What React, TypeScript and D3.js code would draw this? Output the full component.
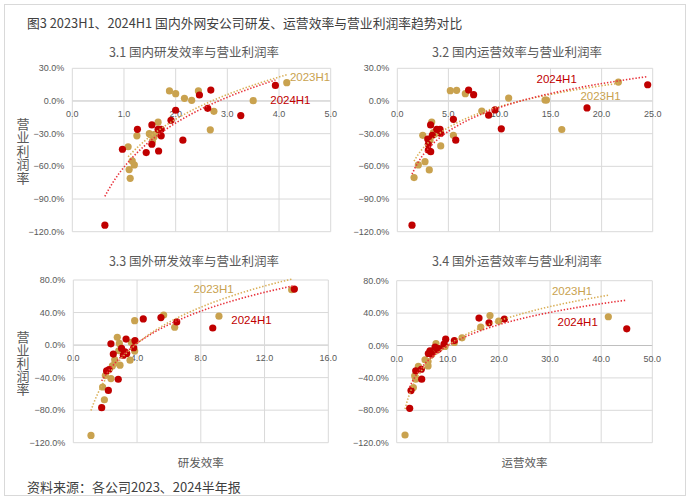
import React from 'react';
import * as d3 from 'd3';

type Pt = [number, number];

// 3.1 国内研发效率 vs 营业利润率
const domRd2023: Pt[] = [[1.88,9.2],[2.0,6.7],[2.17,2.4],[2.31,0.6],[2.44,9.2],[2.74,-9.5],[2.67,-26.5],[3.5,0.3],[4.15,16.8],[1.66,-19.5],[1.49,-30],[1.52,-31],[1.58,-33],[1.55,-37],[1.6,-30.6],[1.25,-32],[1.08,-42],[1.16,-55],[1.2,-58.7],[1.1,-63],[1.12,-71]];
const domRd2024: Pt[] = [[0.63,-114],[0.97,-44.3],[1.26,-26],[1.43,-47.4],[1.54,-22],[1.54,-39.7],[1.66,-26],[1.67,-45.9],[1.72,-26],[1.72,-32],[1.91,-17.7],[2.0,-8.5],[2.14,-36],[2.46,5.5],[2.68,10],[2.62,-6.7],[3.26,-13.4],[3.93,14.3]];
// 3.2 国内运营效率 vs 营业利润率
const domOp2023: Pt[] = [[5.19,9.5],[5.81,9.8],[6.66,6.7],[10.9,2.7],[14.46,0.9],[14.6,0.9],[21.64,17.4],[16.1,-26.2],[8.27,-9.2],[3.37,-19.3],[2.49,-31.5],[3.53,-29],[3.65,-30.5],[3.2,-36],[5.49,-31.5],[4.25,-41.3],[2.71,-55.7],[2.06,-58.7],[3.13,-63.3],[1.64,-70.3]];
const domOp2024: Pt[] = [[1.44,-114],[6.98,10],[7.47,5.8],[9.56,-8.2],[8.94,-13],[10.18,-25.6],[18.57,-6.4],[24.51,14.9],[5.49,-16.8],[5.72,-36],[3.26,-22],[2.98,-35],[3.86,-26],[4.18,-26],[4.25,-29.6],[3.43,-31.5],[3.04,-39.7],[3.04,-45],[3.27,-46.5]];
// 3.3 国外研发效率 vs 营业利润率
const intlRd2023: Pt[] = [[13.7,68],[5.67,37],[3.85,30],[6.36,21.9],[9.14,35.5],[2.76,9.5],[2.89,2],[3.64,3.3],[2.85,-7],[3.85,-7.4],[3.56,-18.6],[2.6,-17.7],[2.62,-21.9],[2.93,-24.7],[2.45,-25.6],[2.01,-37.5],[2.36,-41.2],[1.84,-51.5],[1.95,-67.2],[1.11,-111]];
const intlRd2024: Pt[] = [[13.87,68.9],[4.39,32.2],[5.5,33.8],[6.49,28.5],[8.75,21],[2.36,1.6],[3.31,7.4],[3.87,5.4],[3.79,-3.3],[3.03,-4.1],[3.24,-8.2],[3.35,-10.3],[3.14,-12.4],[2.51,-11.1],[2.82,-42],[2.24,-30],[2.09,-31.8],[2.2,-55.7],[1.78,-77]];
// 3.4 国外运营效率 vs 营业利润率
const intlOp2023: Pt[] = [[41.4,35.5],[18.25,37],[19.95,30],[16.43,22.7],[12.78,9.5],[11.28,3.7],[7.69,2.5],[5.54,-17.7],[6.13,-19.8],[6.13,-25.2],[4.24,-25.6],[3.52,-37.5],[3.72,-41.6],[3.26,-52],[1.63,-110.5],[7.37,-5.4],[6.98,-7.4],[9.45,-1.2]];
const intlOp2024: Pt[] = [[45,20.6],[21.06,32.6],[16.1,33.8],[18.06,28],[11.28,6.2],[9.58,7.8],[9.26,1.6],[7.5,-2],[8.28,-3.7],[6.52,-6.6],[6.19,-9.9],[6.84,-10.7],[8.0,-5.4],[4.82,-29.3],[3.72,-31.3],[4.89,-41.6],[2.8,-55.7],[2.54,-77.5]];

const panelTitles = ['3.1 国内研发效率与营业利润率', '3.2 国内运营效率与营业利润率', '3.3 国外研发效率与营业利润率', '3.4 国外运营效率与营业利润率'];
const seriesNames = ['2023H1', '2024H1'];
const mainTitle = '图3 2023H1、2024H1 国内外网安公司研发、运营效率与营业利润率趋势对比';
const sourceText = '资料来源：各公司2023、2024半年报';
const yAxisTitle = '营业利润率';
const xAxisTitles = ['研发效率', '运营效率'];

const GOLD = '#C9A24F';
const RED = '#C00000';
const GOLD_TREND = '#D9AE55';
const RED_TREND = '#E8313A';
const FONT = '"Liberation Sans", "Noto Sans CJK SC", sans-serif';
const CJK = '"Noto Sans CJK SC", sans-serif';

interface Panel {
  title: string;
  gold: Pt[];
  red: Pt[];
  xDom: [number, number]; xStep: number; xR: [number, number];
  yDom: [number, number]; yStep: number; yR: [number, number];
  titleX: number; titleY: number;
  goldLabel: Pt; redLabel: Pt;
  yTitle: boolean; yTitleTop?: number; yTitleGap?: number; xTitle?: string;
}

const panels: Panel[] = [
  { title: panelTitles[0], gold: domRd2023, red: domRd2024, xDom: [0, 5], xStep: 1, xR: [72.3, 330.7], yDom: [-120, 30], yStep: 30, yR: [231.7, 68.3], titleX: 194, titleY: 51, goldLabel: [4.6, 22], redLabel: [4.22, 1], yTitle: true, yTitleTop: 117.5, yTitleGap: 0.5 },
  { title: panelTitles[1], gold: domOp2023, red: domOp2024, xDom: [0, 25], xStep: 5, xR: [397.3, 652.7], yDom: [-120, 30], yStep: 30, yR: [231.7, 68.3], titleX: 517, titleY: 51, goldLabel: [19.9, 4.6], redLabel: [15.6, 20.5], yTitle: false },
  { title: panelTitles[2], gold: intlRd2023, red: intlRd2024, xDom: [0, 16], xStep: 4, xR: [73.3, 328.3], yDom: [-120, 80], yStep: 40, yR: [442.7, 280], titleX: 194, titleY: 260, goldLabel: [8.8, 68.8], redLabel: [11.18, 30.7], yTitle: true, yTitleTop: 330.5, yTitleGap: 0, xTitle: xAxisTitles[0] },
  { title: panelTitles[3], gold: intlOp2023, red: intlOp2024, xDom: [0, 50], xStep: 10, xR: [396.7, 652.3], yDom: [-120, 80], yStep: 40, yR: [442.7, 280.7], titleX: 517, titleY: 260, goldLabel: [34.3, 66.7], redLabel: [35.4, 28.4], yTitle: false, xTitle: xAxisTitles[1] },
];

function logFit(pts: Pt[]) {
  const lx = pts.map(p => Math.log(p[0]));
  const mx = d3.mean(lx)!;
  const my = d3.mean(pts, p => p[1])!;
  let sxy = 0, sxx = 0;
  pts.forEach((p, i) => { sxy += (lx[i] - mx) * (p[1] - my); sxx += (lx[i] - mx) ** 2; });
  const a = sxy / sxx;
  const b = my - a * mx;
  return { a, b };
}

function PanelView({ p }: { p: Panel }) {
  const x = d3.scaleLinear().domain(p.xDom).range(p.xR);
  const y = d3.scaleLinear().domain(p.yDom).range(p.yR);
  const xTicks = d3.range(p.xDom[0], p.xDom[1] + p.xStep / 2, p.xStep);
  const yTicks = d3.range(p.yDom[0], p.yDom[1] + p.yStep / 2, p.yStep);
  const trend = (pts: Pt[]) => {
    const { a, b } = logFit(pts);
    const [lo, hi] = d3.extent(pts, d => d[0]) as [number, number];
    const xs = d3.range(0, 81).map(i => lo + (hi - lo) * i / 80);
    return d3.line<number>().x(v => x(v)).y(v => y(a * Math.log(v) + b))(xs) || '';
  };
  const fmtX = d3.format('.1f');
  const fmtY = (v: number) => d3.format('.1f')(v) + '%';
  return (
    <g>
      <text x={p.titleX} y={p.titleY} textAnchor="middle" dominantBaseline="central" fontSize={12.5} fill="#595959" fontFamily={CJK}>{p.title}</text>
      {yTicks.map(t => (
        <line key={'gy' + t} x1={p.xR[0]} x2={p.xR[1]} y1={y(t)} y2={y(t)} stroke={t === 0 ? '#BFBFBF' : '#D9D9D9'} strokeWidth={1} />
      ))}
      {xTicks.map(t => (
        <line key={'gx' + t} x1={x(t)} x2={x(t)} y1={p.yR[0]} y2={p.yR[1]} stroke="#D9D9D9" strokeWidth={1} />
      ))}
      {yTicks.map(t => (
        <text key={'ly' + t} x={p.xR[0] - 8} y={y(t)} textAnchor="end" dominantBaseline="central" fontSize={9} fill="#595959" fontFamily={FONT}>{fmtY(t)}</text>
      ))}
      {xTicks.map(t => (
        <text key={'lx' + t} x={x(t)} y={y(0) + 13} textAnchor="middle" dominantBaseline="central" fontSize={9} fill="#595959" fontFamily={FONT}>{fmtX(t)}</text>
      ))}
      {p.gold.map((d, i) => <circle key={'g' + i} cx={x(d[0])} cy={y(d[1])} r={3.6} fill={GOLD} />)}
      {p.red.map((d, i) => <circle key={'r' + i} cx={x(d[0])} cy={y(d[1])} r={3.6} fill={RED} />)}
      <path d={trend(p.gold)} fill="none" stroke={GOLD_TREND} strokeWidth={1.6} strokeDasharray="1.4,1.8" />
      <path d={trend(p.red)} fill="none" stroke={RED_TREND} strokeWidth={1.6} strokeDasharray="1.4,1.8" />
      <text x={x(p.goldLabel[0])} y={y(p.goldLabel[1])} textAnchor="middle" dominantBaseline="central" fontSize={11.5} fill={GOLD} fontFamily={FONT}>{seriesNames[0]}</text>
      <text x={x(p.redLabel[0])} y={y(p.redLabel[1])} textAnchor="middle" dominantBaseline="central" fontSize={11.5} fill={RED} fontFamily={FONT}>{seriesNames[1]}</text>
      {p.yTitle && (
        <text x={23} y={p.yTitleTop} textAnchor="start" fontSize={13} fill="#595959" fontFamily={CJK}
          style={{ writingMode: 'vertical-rl', textOrientation: 'upright', letterSpacing: `${p.yTitleGap}px` } as React.CSSProperties}>{yAxisTitle}</text>
      )}
      {p.xTitle && (
        <text x={(p.xR[0] + p.xR[1]) / 2} y={462} textAnchor="middle" dominantBaseline="central" fontSize={11.5} fill="#595959" fontFamily={CJK}>{p.xTitle}</text>
      )}
    </g>
  );
}

export default function App() {
  return (
    <svg width={690} height={500} style={{ position: 'absolute', left: 0, top: 0, background: '#fff' }}>
      <rect x={0} y={0} width={690} height={500} fill="#fff" />
      <rect x={4.5} y={4.5} width={681} height={491} fill="none" stroke="#D9D9D9" strokeWidth={1} />
      <text x={27} y={22.5} dominantBaseline="central" fontSize={12.8} fill="#404040" fontFamily={CJK}>{mainTitle}</text>
      {panels.map((p, i) => <PanelView key={i} p={p} />)}
      <text x={27} y={486} dominantBaseline="central" fontSize={13} fill="#404040" fontFamily={CJK}>{sourceText}</text>
    </svg>
  );
}
